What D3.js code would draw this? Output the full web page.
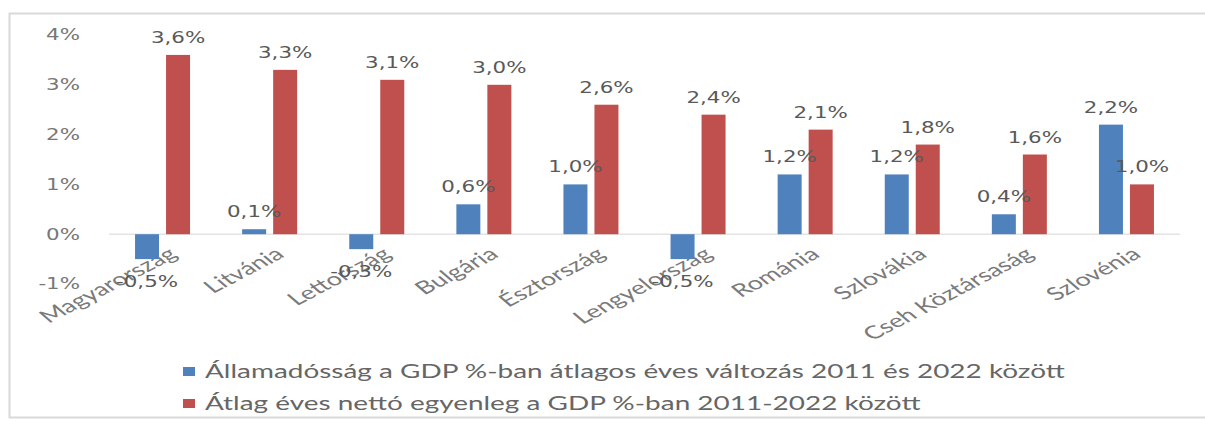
<!DOCTYPE html>
<html>
<head>
<meta charset="utf-8">
<script src="https://cdn.jsdelivr.net/npm/d3@7"></script>
<style>
  body { margin: 0; background: #fff; }
  svg { display: block; }
</style>
</head>
<body>
<div id="chart"></div>
<script>
// data
var countries = ["Magyarország", "Litvánia", "Lettország", "Bulgária", "Észtország",
  "Lengyelország", "Románia", "Szlovákia", "Cseh Köztársaság", "Szlovénia"];
var debtChange = [-0.5, 0.1, -0.3, 0.6, 1.0, -0.5, 1.2, 1.2, 0.4, 2.2];
var netBalance = [3.6, 3.3, 3.1, 3.0, 2.6, 2.4, 2.1, 1.8, 1.6, 1.0];
var yTicks = [-1, 0, 1, 2, 3, 4];
var seriesNames = [
  "Államadósság a GDP %-ban átlagos éves változás 2011 és 2022 között",
  "Átlag éves nettó egyenleg a GDP %-ban 2011-2022 között"
];
var seriesColors = ["#4f81bd", "#c0504d"];

var width = 1205;
var height = 422;
var SX = 1.38; // the picture is stretched sideways, so text is too

var svg = d3.select("#chart")
  .append("svg")
    .attr("width", width)
    .attr("height", height);

// chart frame
svg.append("rect")
  .attr("x", 9.5).attr("y", 13.5)
  .attr("width", 1300).attr("height", 404)
  .attr("fill", "#fff")
  .attr("stroke", "#d9d9d9")
  .attr("stroke-width", 2);

var x0 = d3.scaleBand()
  .domain(countries)
  .range([109, 1180]);

var x1 = d3.scaleBand()
  .domain([0, 1])
  .range([x0.bandwidth() / 2 - 27.5, x0.bandwidth() / 2 + 27.5])
  .paddingInner(0.226);

var y = d3.scaleLinear()
  .domain([-1, 4])
  .range([284, 35]);

function fmt(v) {
  return v.toFixed(1).replace(".", ",") + "%";
}

// stretched text helper
function stretchedText(g, x, yy, str, opts) {
  var t = g.append("text")
    .attr("transform", "translate(" + x + "," + yy + ") scale(" + (opts.sx || SX) + ",1)" + (opts.rotate ? " rotate(" + opts.rotate + ")" : ""))
    .attr("text-anchor", opts.anchor || "middle")
    .attr("font-family", opts.font || "DejaVu Sans, sans-serif")
    .attr("font-size", opts.size || 15)
    .attr("fill", opts.color || "#6b6b6b")
    .text(str);
  if (opts.dy) t.attr("dy", opts.dy);
  return t;
}

// y axis labels (no axis line)
var yg = svg.append("g");
yTicks.forEach(function (t) {
  stretchedText(yg, 80, y(t), t + "%", { anchor: "end", size: 15.5, dy: "0.35em", color: "#777" });
});

// zero line
svg.append("line")
  .attr("x1", x0.range()[0]).attr("x2", x0.range()[1])
  .attr("y1", y(0)).attr("y2", y(0))
  .attr("stroke", "#e3e3e3")
  .attr("stroke-width", 1.5);

// category labels
var cg = svg.append("g");
countries.forEach(function (c) {
  stretchedText(cg, x0(c) + x0.bandwidth() / 2 + 4, 246, c,
    { anchor: "end", font: "Lato, sans-serif", size: 18, sx: 1.5, rotate: -38, dy: "0.72em", color: "#7a7a7a" });
});

// bars
var series = [debtChange, netBalance];
var groups = svg.append("g")
  .selectAll("g")
  .data(countries)
  .enter()
  .append("g")
    .attr("transform", function (d) { return "translate(" + x0(d) + ",0)"; });

groups.selectAll("rect")
  .data(function (d, i) { return series.map(function (s, k) { return { k: k, v: s[i] }; }); })
  .enter()
  .append("rect")
    .attr("x", function (d) { return x1(d.k); })
    .attr("width", x1.bandwidth())
    .attr("y", function (d) { return y(Math.max(0, d.v)); })
    .attr("height", function (d) { return Math.abs(y(d.v) - y(0)); })
    .attr("fill", function (d) { return seriesColors[d.k]; });

// data labels
var lg = svg.append("g");
countries.forEach(function (c, i) {
  series.forEach(function (s, k) {
    var v = s[i];
    var cx = x0(c) + x1(k) + x1.bandwidth() / 2;
    var yy = v >= 0 ? y(v) - 12 : y(v) + 28;
    stretchedText(lg, cx, yy, fmt(v), { size: 15.5, color: "#595959" });
  });
});

// legend
var leg = svg.append("g");
seriesNames.forEach(function (name, k) {
  var ly = 372 + k * 32;
  leg.append("rect")
    .attr("x", 183).attr("y", ly - 5)
    .attr("width", 12).attr("height", 9)
    .attr("fill", seriesColors[k]);
  stretchedText(leg, 205, ly, name,
    { anchor: "start", font: "Lato, sans-serif", size: 18.5, sx: 1.51, dy: "0.35em", color: "#666" });
});
</script>
</body>
</html>
